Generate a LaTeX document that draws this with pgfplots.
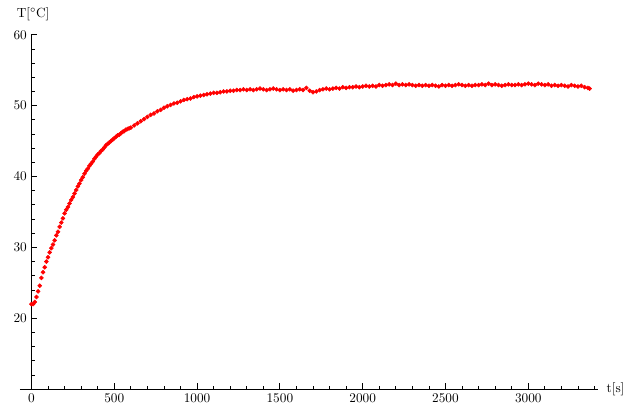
\documentclass[border=0pt]{standalone}
\usepackage{pgfplots}
\pgfplotsset{compat=1.18}
\begin{document}
\begin{tikzpicture}[x=1pt,y=1pt]
\begin{axis}[
  scale only axis,
  width=436pt, height=267.4pt,
  xmin=-70, xmax=3420, ymin=10, ymax=60,
  axis x line=bottom, axis y line=center,
  axis line style={black, line width=0.8pt, -},
  tick align=inside,
  xtick={0,500,1000,1500,2000,2500,3000},
  ytick={20,30,40,50,60},
  minor xtick={100,200,300,400,600,700,800,900,1100,1200,1300,1400,1600,1700,1800,1900,2100,2200,2300,2400,2600,2700,2800,2900,3100,3200,3300,3400},
  minor ytick={12,14,16,18,22,24,26,28,32,34,36,38,42,44,46,48,52,54,56,58},
  major tick length=4.5pt, minor tick length=2.5pt,
  tick style={black, line width=0.6pt},
  ticklabel style={font=\normalsize},
  /pgf/number format/1000 sep={},
  clip=false,
]
\addplot[only marks, mark=*, mark size=1.5pt, red, mark options={draw=red, fill=red}] coordinates {
(0,22.0)(10,22.0)(20,22.3)(30,23.0)(40,23.8)(50,24.6)(60,25.7)(70,26.5)(80,27.2)(90,28.0)
(100,28.6)(110,29.3)(120,29.9)(130,30.4)(140,31.0)(150,31.7)(160,32.2)(170,32.9)(180,33.5)(190,34.1)
(200,34.8)(210,35.3)(220,35.7)(230,36.2)(240,36.7)(250,37.1)(260,37.6)(270,38.1)(280,38.6)(290,39.0)
(300,39.5)(310,39.9)(320,40.4)(330,40.8)(340,41.1)(350,41.5)(360,41.8)(370,42.1)(380,42.5)(390,42.8)
(400,43.1)(410,43.3)(420,43.6)(430,43.8)(440,44.1)(450,44.4)(460,44.6)(470,44.8)(480,45.0)(490,45.2)
(500,45.4)(510,45.6)(520,45.8)(530,45.9)(540,46.1)(550,46.3)(560,46.4)(570,46.6)(580,46.7)(590,46.8)
(600,46.9)(620,47.2)(640,47.5)(660,47.8)(680,48.1)(700,48.4)(720,48.7)(740,48.9)(760,49.2)(780,49.4)
(800,49.7)(820,49.9)(840,50.1)(860,50.3)(880,50.4)(900,50.6)(920,50.8)(940,50.9)(960,51.0)(980,51.2)
(1000,51.3)(1020,51.4)(1040,51.5)(1060,51.6)(1080,51.7)(1100,51.8)(1120,51.8)(1140,51.9)(1160,52.0)(1180,52.0)
(1200,52.1)(1220,52.1)(1240,52.2)(1260,52.2)(1280,52.3)(1300,52.2)(1320,52.3)(1340,52.2)(1360,52.3)(1380,52.4)
(1400,52.3)(1420,52.2)(1440,52.3)(1460,52.4)(1480,52.3)(1500,52.2)(1520,52.3)(1540,52.2)(1560,52.3)(1580,52.1)
(1600,52.2)(1620,52.3)(1640,52.2)(1660,52.5)(1680,52.1)(1700,51.9)(1720,52.0)(1740,52.2)(1760,52.3)(1780,52.4)
(1800,52.3)(1820,52.4)(1840,52.5)(1860,52.4)(1880,52.6)(1900,52.5)(1920,52.6)(1940,52.6)(1960,52.7)(1980,52.6)
(2000,52.7)(2020,52.8)(2040,52.7)(2060,52.8)(2080,52.7)(2100,52.9)(2120,52.8)(2140,52.9)(2160,53.0)(2180,52.9)
(2200,53.1)(2220,52.9)(2240,53.0)(2260,52.9)(2280,53.0)(2300,52.9)(2320,52.8)(2340,52.9)(2360,52.8)(2380,52.9)
(2400,52.8)(2420,52.9)(2440,52.8)(2460,52.7)(2480,52.9)(2500,52.8)(2520,52.9)(2540,52.8)(2560,52.9)(2580,53.0)
(2600,52.9)(2620,52.8)(2640,52.9)(2660,52.8)(2680,52.9)(2700,52.9)(2720,53.0)(2740,52.9)(2760,53.1)(2780,52.9)
(2800,53.0)(2820,52.9)(2840,52.8)(2860,52.9)(2880,53.0)(2900,52.9)(2920,52.9)(2940,53.0)(2960,52.9)(2980,53.0)
(3000,53.1)(3020,53.0)(3040,52.9)(3060,53.1)(3080,53.0)(3100,52.9)(3120,53.0)(3140,52.8)(3160,52.9)(3180,52.8)
(3200,52.9)(3220,52.8)(3240,52.7)(3260,52.9)(3280,52.8)(3300,52.7)(3320,52.8)(3340,52.6)(3360,52.5)(3370,52.4)
};
\node at (axis cs:10,62.9) {T[$^\circ$C]};
\node[anchor=west] at (axis cs:3445,10) {t[s]};
\coordinate (bl) at (axis cs:-190,7.41);
\coordinate (tr) at (axis cs:3578,64.9);
\end{axis}
\pgfresetboundingbox
\path[use as bounding box] (bl) rectangle (tr);
\end{tikzpicture}
\end{document}
